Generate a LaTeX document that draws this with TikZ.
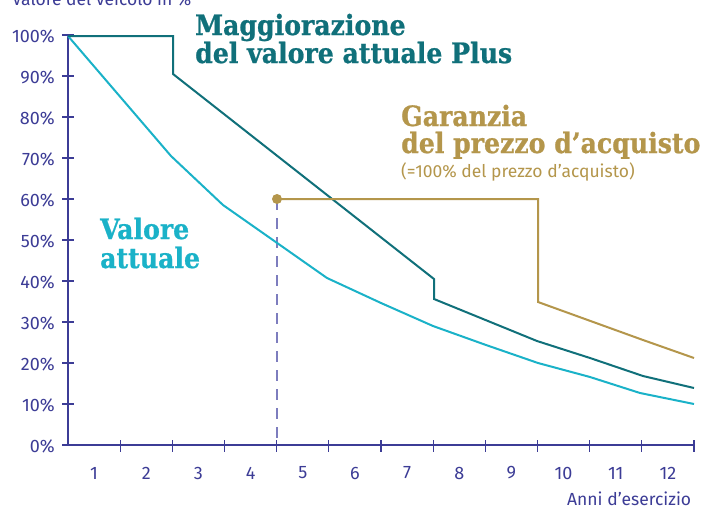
\documentclass[tikz,border=0pt]{standalone}
\usepackage{fontspec}
\setmainfont{Fira Sans}
\newfontfamily\labelfont{Fira Sans}
\newfontfamily\headfont{DejaVu Serif Condensed}[BoldFeatures={FakeBold=0.8}]
\definecolor{axiscol}{RGB}{60,60,150}
\definecolor{tealcol}{RGB}{16,112,122}
\definecolor{cyancol}{RGB}{26,178,200}
\definecolor{goldcol}{RGB}{180,150,75}
\definecolor{dashcol}{RGB}{125,125,190}
\tikzset{
  axisline/.style={draw=axiscol, line width=1.4pt},
  tickline/.style={draw=axiscol, line width=1.1pt},
  ticklab/.style={text=axiscol, font=\labelfont\fontsize{18}{20}\selectfont, inner sep=0pt},
  axtitle/.style={text=axiscol, font=\labelfont\fontsize{17.5}{20}\selectfont, inner sep=0pt, anchor=base west},
  curve/.style={line width=2pt, line join=miter},
  heading/.style={font=\headfont\bfseries\fontsize{28}{30}\selectfont, inner sep=0pt, anchor=base west},
}
\begin{document}
\begin{tikzpicture}[x=1pt,y=-1pt]
\clip (0,0) rectangle (707,509);
\fill[white] (0,0) rectangle (707,509);
% axes
\draw[axisline] (68,35) -- (68,445) -- (694,445);
\foreach \i in {0,...,10} {
  \pgfmathsetmacro\yy{445-41*\i}
  \draw[tickline] (62,\yy) -- (74,\yy);
  \pgfmathtruncatemacro\pc{10*\i}
  \node[ticklab, anchor=east] (yl\i) at (55,\yy+1) {\pc\%};
}
\foreach \i in {1,...,12} {
  \pgfmathsetmacro\xx{68+52.17*\i}
  \draw[tickline] (\xx,440) -- (\xx,452);
  \pgfmathsetmacro\xm{68+52.17*(\i-0.5)}
  \node[ticklab] (xl\i) at (\xm,473) {\i};
}
\node[axtitle] (ytitle) at (12,5) {Valore del veicolo in \%};
\node[axtitle] (xtitle) at (567,505) {Anni d’esercizio};
% dashed marker
\coordinate (dot) at (277,199);
\coordinate (dotfoot) at (277,445);
\draw[dashcol, line width=1.3pt, dash pattern=on 11pt off 8pt] (dot) -- (dotfoot);
% curves
\draw[curve, cyancol] (68,36) -- (171,156) -- (223,205) -- (327,278) -- (381,303) -- (433,326) -- (486,345) -- (538,363) -- (590,377) -- (640,393) -- (694,404);
\draw[curve, tealcol] (68,36) -- (173,36) -- (173,74) -- (434,279) -- (434,299) -- (537,341) -- (590,358) -- (643,376) -- (694,388);
\draw[curve, goldcol] (dot) -- (538,199) -- (538,302) -- (643,340) -- (694,358);
\fill[goldcol] (dot) circle (5pt);
% headings
\node[heading, text=tealcol] (mag1) at (195,35) {Maggiorazione};
\node[heading, text=tealcol] (mag2) at (195,63) {del valore attuale Plus};
\node[heading, text=cyancol] (val1) at (100,239) {Valore};
\node[heading, text=cyancol] (val2) at (100,268) {attuale};
\node[heading, text=goldcol] (gar1) at (401,126) {Garanzia};
\node[heading, text=goldcol] (gar2) at (401,153) {del prezzo d’acquisto};
\node[text=goldcol, font=\labelfont\fontsize{17.5}{20}\selectfont, inner sep=0pt, anchor=base west] (gar3) at (401,177) {(=100\% del prezzo d’acquisto)};
\end{tikzpicture}
\end{document}
